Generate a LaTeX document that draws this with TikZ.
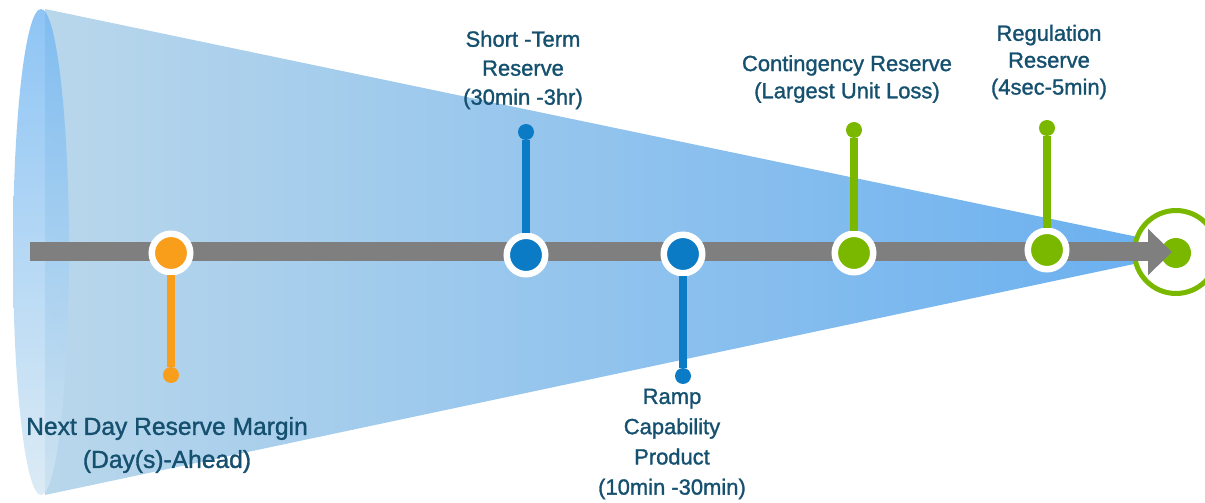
\documentclass[tikz,border=0pt]{standalone}
\usepackage{fontspec}
\setmainfont{Liberation Sans}
\newfontfamily\lblfont[FakeBold=1.3]{Liberation Sans}
\usetikzlibrary{arrows.meta}
\definecolor{coneL}{HTML}{B9D7EB}
\definecolor{coneR}{HTML}{67AEF0}
\definecolor{ellT}{HTML}{72B6F2}
\definecolor{ellB}{HTML}{D3E6F2}
\definecolor{barGray}{HTML}{7F7F7F}
\definecolor{mOrange}{HTML}{F89E1B}
\definecolor{mBlue}{HTML}{0A7BC4}
\definecolor{mGreen}{HTML}{7AB800}
\definecolor{txt}{HTML}{15506F}
\tikzset{
  mstone/.style={circle, draw=white, line width=0.13cm, minimum size=0.77cm, inner sep=0pt},
  tipdot/.style={circle, minimum size=0.32cm, inner sep=0pt},
  stem/.style={line width=0.16cm},
  lbl/.style={text=txt, align=center, font=\lblfont\fontsize{12.5}{16.5}\selectfont},
}
\begin{document}
\begin{tikzpicture}[x=0.02cm, y=-0.02cm]
		%%%%% START %%%%%
		\useasboundingbox (0,0) rectangle (1205,503);
		
		% the cone
		\shade[left color=coneL, right color=coneR] (45,9) -- (1200,250) -- (45,495) -- cycle;
		\shade[top color=ellT, bottom color=ellB, opacity=0.8] (41,252) ellipse (28 and 243);
		
		% goal at the tip
		\node[circle, draw=mGreen, line width=0.1cm, fill=white, minimum size=1.66cm, inner sep=0pt] (goal) at (1176,252) {};
		\node[circle, fill=mGreen, minimum size=0.6cm, inner sep=0pt] (goaldot) at (1176,253) {};
		
		% time axis
		\coordinate (tail) at (30,252);
		\coordinate (head) at (1172,252);
		\draw[barGray, line width=0.38cm, -{Triangle[length=0.48cm, width=0.9cm]}] (tail) -- (head);
		
		% next day
		\node[mstone, fill=mOrange] (nextday) at (171,253) {};
		\node[tipdot, fill=mOrange] (nextdayend) at (171,375) {};
		\draw[stem, mOrange] (nextday) -- (nextdayend);
		
		% short term
		\node[mstone, fill=mBlue] (shortterm) at (526,255) {};
		\node[tipdot, fill=mBlue] (shorttermend) at (526,132) {};
		\draw[stem, mBlue] (shortterm) -- (shorttermend);
		
		% ramp
		\node[mstone, fill=mBlue] (ramp) at (683,254) {};
		\node[tipdot, fill=mBlue] (rampend) at (683,376) {};
		\draw[stem, mBlue] (ramp) -- (rampend);
		
		% contingency
		\node[mstone, fill=mGreen] (contin) at (854,253) {};
		\node[tipdot, fill=mGreen] (continend) at (854,130) {};
		\draw[stem, mGreen] (contin) -- (continend);
		
		% regulation
		\node[mstone, fill=mGreen] (regul) at (1047,250) {};
		\node[tipdot, fill=mGreen] (regulend) at (1047,128) {};
		\draw[stem, mGreen] (regul) -- (regulend);
		
		% labels
		\node[lbl, font=\lblfont\fontsize{14}{18.8}\selectfont] (nextdaylbl) at (167,445) {Next Day Reserve Margin\\(Day(s)-Ahead)};
		\node[lbl] (shorttermlbl) at (523,70) {Short -Term\\Reserve\\(30min -3hr)};
		\node[lbl, font=\lblfont\fontsize{12.5}{17.2}\selectfont] (ramplbl) at (672,444) {Ramp\\Capability\\Product\\(10min -30min)};
		\node[lbl, font=\lblfont\fontsize{12.5}{15.5}\selectfont] (continlbl) at (847,79) {Contingency Reserve\\(Largest Unit Loss)};
		\node[lbl, font=\lblfont\fontsize{12.5}{15.3}\selectfont] (regullbl) at (1049,62) {Regulation\\Reserve\\(4sec-5min)};
		%%%%% END %%%%%
\end{tikzpicture}
\end{document}
